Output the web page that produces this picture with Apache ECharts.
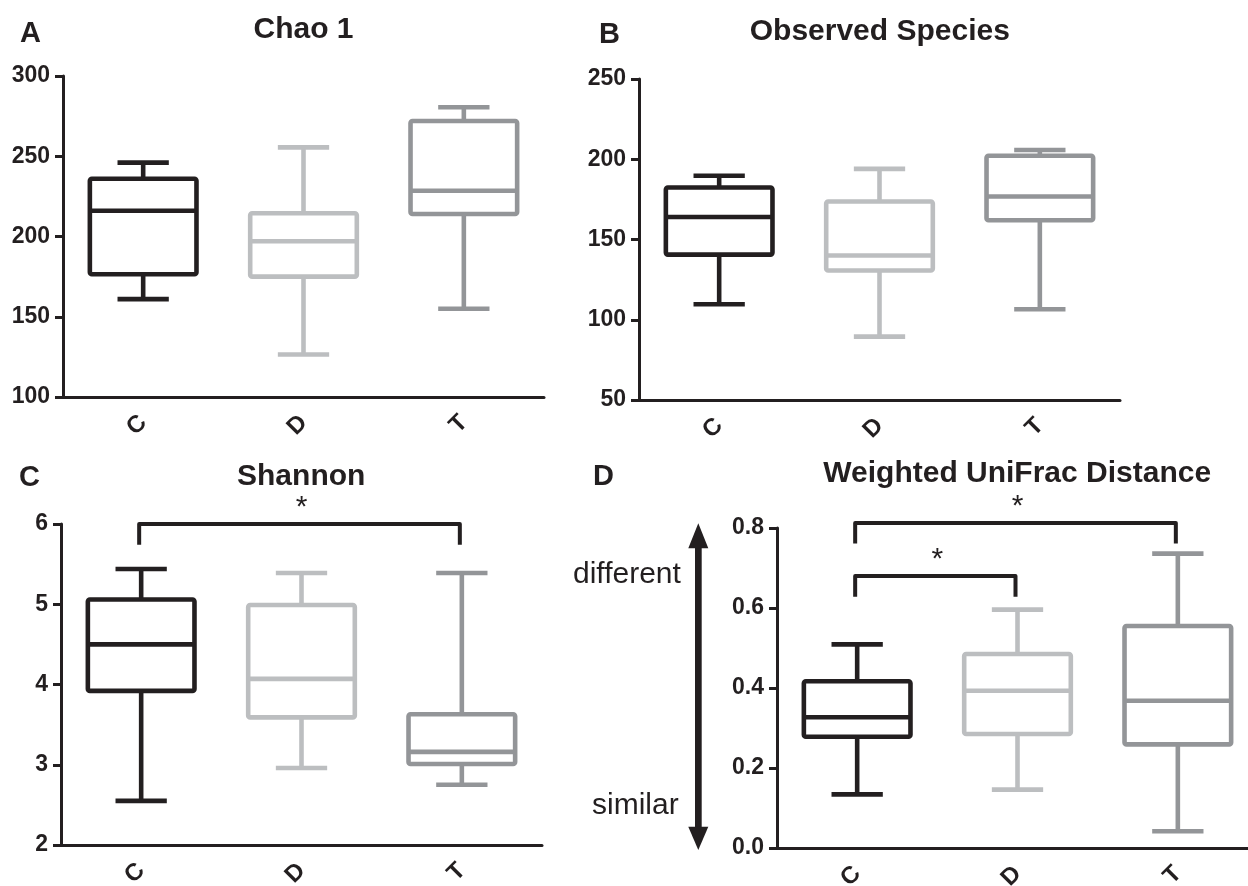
<!DOCTYPE html>
<html><head><meta charset="utf-8">
<script src="https://cdn.jsdelivr.net/npm/echarts@6/dist/echarts.min.js"></script>
<style>html,body{margin:0;padding:0;background:#fff}#c{width:1248px;height:886px}</style>
</head><body><div id="c"></div>
<script>
// ---- data ----
const categories = ['C', 'D', 'T'];
// each row: [min, Q1, median, Q3, max]
const chao1 = [[161, 176.5, 216, 236, 246], [126.5, 175, 197, 214.5, 255.5], [155, 214, 228.5, 272, 280.5]];
const observedSpecies = [[109.7, 140.6, 164, 182.4, 189.7], [89.5, 130.7, 140, 173.7, 194], [106.5, 162, 176.8, 202.2, 205.8]];
const shannon = [[2.55, 3.92, 4.50, 5.06, 5.44], [2.96, 3.59, 4.07, 4.99, 5.39], [2.75, 3.01, 3.16, 3.63, 5.39]];
const unifrac = [[0.134, 0.278, 0.327, 0.417, 0.509], [0.146, 0.285, 0.393, 0.485, 0.596], [0.042, 0.259, 0.368, 0.555, 0.736]];
const titles = ['Chao 1', 'Observed Species', 'Shannon', 'Weighted UniFrac Distance'];
const panelLetters = ['A', 'B', 'C', 'D'];
// y axis [min, max, interval]
const yRanges = [[100, 300, 50], [50, 250, 50], [2, 6, 1], [0, 0.8, 0.2]];
// significance brackets: [fromCategory, toCategory, topValue, legEndValue]
const shannonBrackets = [[0, 2, 6.0, 5.74]];
const unifracBrackets = [[0, 2, 0.8125, 0.761], [0, 1, 0.680, 0.628]];
const sigLabel = '*';
const arrowLabels = ['different', 'similar'];

// ---- styles ----
const boxColors = ['#231f20', '#bcbec0', '#939598'];
const ink = '#231f20';
const FONT = '"Liberation Sans", Arial, Helvetica, sans-serif';
const grids = [
  {left: 63, top: 76, width: 481, height: 321, outerBoundsMode: 'none', containLabel: false},
  {left: 639, top: 79, width: 481, height: 321, outerBoundsMode: 'none', containLabel: false},
  {left: 61, top: 524, width: 481, height: 321, outerBoundsMode: 'none', containLabel: false},
  {left: 777, top: 528, width: 481, height: 320, outerBoundsMode: 'none', containLabel: false}
];
const titlePos = [[303.5, 29.5], [879.8, 31.5], [301.2, 477], [1017.2, 473.5]];
const letterPos = [[20, 33.5], [599, 35], [19, 477.5], [593, 477]];

function boxRender(params, api) {
  const i = api.value(0);
  const lo = api.coord([i, api.value(1)]);
  const q1 = api.coord([i, api.value(2)]);
  const med = api.coord([i, api.value(3)]);
  const q3 = api.coord([i, api.value(4)]);
  const hi = api.coord([i, api.value(5)]);
  const band = api.size([1, 0])[0];
  const bw = band * 0.665, cw = band * 0.32;
  const x = lo[0];
  const st = {stroke: boxColors[i], lineWidth: 4.6, fill: null, lineJoin: 'round'};
  return {type: 'group', children: [
    {type: 'line', shape: {x1: x, y1: hi[1], x2: x, y2: q3[1]}, style: st},
    {type: 'line', shape: {x1: x, y1: q1[1], x2: x, y2: lo[1]}, style: st},
    {type: 'line', shape: {x1: x - cw / 2, y1: hi[1], x2: x + cw / 2, y2: hi[1]}, style: st},
    {type: 'line', shape: {x1: x - cw / 2, y1: lo[1], x2: x + cw / 2, y2: lo[1]}, style: st},
    {type: 'rect', shape: {x: x - bw / 2, y: q3[1], width: bw, height: q1[1] - q3[1], r: 2}, style: Object.assign({}, st, {fill: '#fff'})},
    {type: 'line', shape: {x1: x - bw / 2, y1: med[1], x2: x + bw / 2, y2: med[1]}, style: st}
  ]};
}

function bracketRender(params, api) {
  const a = api.coord([api.value(0), api.value(2)]);
  const b = api.coord([api.value(1), api.value(2)]);
  const leg = api.coord([api.value(0), api.value(3)])[1];
  const xa = a[0] - 2, xb = b[0] - 2;
  return {type: 'group', children: [
    {type: 'polyline', shape: {points: [[xa, leg], [xa, a[1]], [xb, b[1]], [xb, leg]]},
      style: {stroke: ink, lineWidth: 4, fill: null, lineJoin: 'round'}},
    {type: 'text', x: (a[0] + b[0]) / 2, y: a[1] - 16,
      style: {text: sigLabel, font: '30px ' + FONT, fill: ink, align: 'center', verticalAlign: 'middle'}}
  ]};
}

const datasets = [chao1, observedSpecies, shannon, unifrac];
const xAxes = [], yAxes = [], series = [];
datasets.forEach((d, k) => {
  xAxes.push({
    type: 'category', gridIndex: k, data: categories, boundaryGap: true,
    axisLine: {onZero: false, lineStyle: {color: ink, width: 3}},
    axisTick: {alignWithLabel: true, length: 8, lineStyle: {color: ink, width: 3}},
    axisLabel: {rotate: 45, margin: 22, fontSize: 24, fontWeight: 'bold', color: ink, fontFamily: FONT},
    splitLine: {show: false}
  });
  yAxes.push({
    type: 'value', gridIndex: k, min: yRanges[k][0], max: yRanges[k][1], interval: yRanges[k][2],
    axisLine: {show: true, lineStyle: {color: ink, width: 3}},
    axisTick: {show: true, length: 8, lineStyle: {color: ink, width: 3}},
    axisLabel: {margin: 13, fontSize: 23, fontWeight: 'bold', color: ink, fontFamily: FONT,
      formatter: k === 3 ? (v => v.toFixed(1)) : (v => String(v))},
    splitLine: {show: false}
  });
  series.push({
    type: 'custom', coordinateSystem: 'cartesian2d', xAxisIndex: k, yAxisIndex: k,
    renderItem: boxRender, clip: false, silent: true,
    data: d.map((r, i) => [i].concat(r))
  });
});
series.push({type: 'custom', coordinateSystem: 'cartesian2d', xAxisIndex: 2, yAxisIndex: 2,
  renderItem: bracketRender, clip: false, silent: true, data: shannonBrackets});
series.push({type: 'custom', coordinateSystem: 'cartesian2d', xAxisIndex: 3, yAxisIndex: 3,
  renderItem: bracketRender, clip: false, silent: true, data: unifracBrackets});

const graphics = [];
titles.forEach((t, k) => {
  graphics.push({type: 'text', x: titlePos[k][0], y: titlePos[k][1],
    style: {text: t, font: 'bold 30px ' + FONT, fill: ink, align: 'center', verticalAlign: 'middle'}});
  graphics.push({type: 'text', x: letterPos[k][0], y: letterPos[k][1],
    style: {text: panelLetters[k], font: 'bold 29px ' + FONT, fill: ink, align: 'left', verticalAlign: 'middle'}});
});
// double-headed arrow beside panel D
graphics.push({type: 'rect', shape: {x: 695, y: 545, width: 6.7, height: 284}, style: {fill: ink}});
graphics.push({type: 'polygon', shape: {points: [[698.3, 523.3], [708.3, 548.3], [688.3, 548.3]]}, style: {fill: ink}});
graphics.push({type: 'polygon', shape: {points: [[698.3, 850], [708.3, 826.7], [688.3, 826.7]]}, style: {fill: ink}});
graphics.push({type: 'text', x: 573, y: 575, style: {text: arrowLabels[0], font: '30px ' + FONT, fill: ink, align: 'left', verticalAlign: 'middle'}});
graphics.push({type: 'text', x: 592, y: 806, style: {text: arrowLabels[1], font: '30px ' + FONT, fill: ink, align: 'left', verticalAlign: 'middle'}});

const chart = echarts.init(document.getElementById('c'), null, {renderer: 'canvas'});
chart.setOption({
  animation: false,
  backgroundColor: '#fff',
  grid: grids,
  xAxis: xAxes,
  yAxis: yAxes,
  series: series,
  graphic: graphics
});
</script></body></html>
